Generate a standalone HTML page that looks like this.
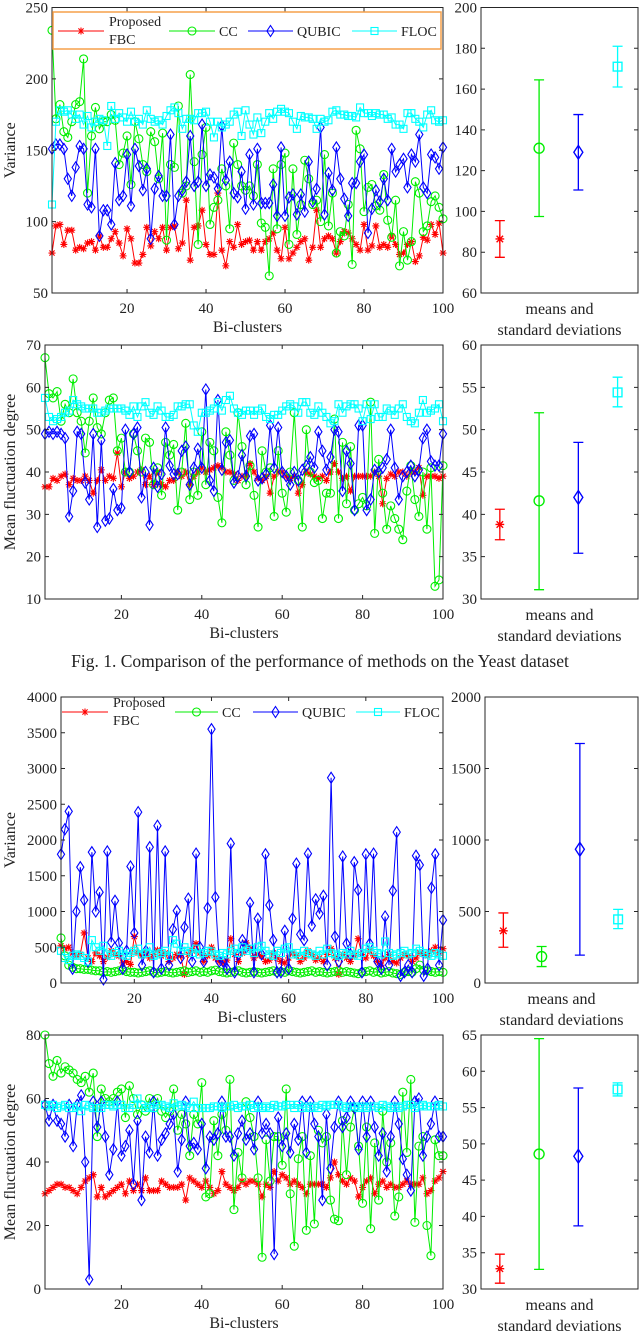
<!DOCTYPE html>
<html><head><meta charset="utf-8"><style>
html,body{margin:0;padding:0;background:#fff;}
svg{display:block;font-family:"Liberation Serif",serif;}
</style></head><body>
<svg id="fig" width="640" height="1333" viewBox="0 0 640 1333" xmlns="http://www.w3.org/2000/svg"></svg>
<script>
const xTicks=[20,40,60,80,100];
const p1Ticks=[50,100,150,200,250];
const p1EbTicks=[60,80,100,120,140,160,180,200];
const p2Ticks=[10,20,30,40,50,60,70];
const p2EbTicks=[30,35,40,45,50,55,60];
const p3Ticks=[0,500,1000,1500,2000,2500,3000,3500,4000];
const p3EbTicks=[0,500,1000,1500,2000];
const p4Ticks=[0,20,40,60,80];
const p4EbTicks=[30,35,40,45,50,55,60,65];

const p1Fbc=[78,97,98,84,94,94,80,82,81,85,86,80,90,82,82,88,93,85,76,95,88,71,71,77,96,83,93,88,96,80,96,97,81,85,115,73,96,97,108,84,77,77,120,80,69,86,82,98,84,86,87,80,86,80,86,88,92,80,74,96,74,78,82,86,88,73,82,108,82,88,90,88,78,86,93,92,88,84,80,98,80,83,97,82,84,82,90,84,77,78,84,86,72,76,89,87,98,91,99,78];
const p1Cc=[234,172,182,163,159,170,182,184,214,120,160,180,165,170,170,175,171,140,148,160,126,170,158,140,135,163,156,130,162,87,140,138,181,120,125,203,142,84,147,166,98,110,115,137,125,95,155,140,125,122,125,118,140,99,96,62,137,95,140,148,84,137,91,112,143,130,112,115,100,147,97,120,78,93,90,112,70,164,151,107,124,126,111,108,133,101,89,115,69,93,73,86,128,120,93,97,114,118,110,102];
const p1Qubic=[151,154,154,151,130,118,138,153,151,112,110,151,90,108,108,98,141,115,118,147,111,151,139,122,137,88,123,132,118,118,161,98,118,122,128,160,125,128,168,125,133,131,123,167,129,142,120,117,135,109,147,112,151,113,113,113,126,104,152,104,117,119,105,119,107,142,114,123,166,105,134,122,152,130,116,104,127,127,142,147,92,109,122,114,130,115,151,135,140,144,124,147,142,161,124,120,147,145,137,152];
const p1Floc=[112,170,178,177,178,175,172,175,168,174,166,170,172,171,153,181,172,176,173,170,177,170,172,168,178,172,170,171,168,174,178,180,176,165,172,172,171,176,176,177,170,159,170,166,168,170,175,177,160,178,168,161,173,162,170,176,172,177,179,177,176,170,165,174,173,173,172,165,172,170,171,177,178,175,175,174,174,173,180,176,176,174,176,175,175,172,173,168,168,165,176,176,172,170,166,175,178,171,170,171];
const p1Means=[86.5,131,129,171];
const p1Lo=[77.5,97.5,110.5,161];
const p1Hi=[95.5,164.5,147.5,181];

const p2Fbc=[36.5,36.5,38.5,38,39,39.5,37,38.5,38,38,39,38,35,38,40.5,38,39,38.5,44.5,36.5,40,38.5,39,40,40.5,37,39,37,40,37,36.5,38,38,40,39,40,37,39,40,41,40,40.5,41,41.5,41,40,40,39.5,38,39,39,42,40,38.5,38,39,35,39,40,40,39,38.5,39,35,37,40,39.5,39,38.5,39,38,40,42,40,38.5,39,35.5,39,39,39,39,39,40,39,32.5,38.5,39.5,39,40,40,39,40,40,41,34.5,39,39,39,38.5,39];
const p2Cc=[67,58.5,57.5,59,52,56,54,62,54,52,44.5,52,57.5,50.5,49,54,57,57.5,45,48,40,40,49,45,40,48,47,37,41,34.5,47,44,46.5,31,40,51.5,33.5,40,34.5,49.5,37,47,45,34,28,49.5,44,38,54,46,37,41.5,34.5,27,45,40,41,29.5,45,35,30.5,40,54,38,27,50,40,37.5,38,29,35,35,52.5,29,47,32.5,46,31,32.5,34,32,56.5,25.5,43,35,26.5,32,29,26.5,24,35.5,41.5,33.5,29.5,40,26.5,41,13,14.5,41.5];
const p2Qubic=[49,49.5,49,49.5,49,48,29.5,35.5,49.5,49,37.5,33.5,49,27,47.5,28.5,29,36,31,31.5,50,40,49,50.5,34,40,27.5,41,36.5,39.5,50.5,41.5,39.5,39.5,45,46,37,41,45.5,41,59.5,38,35.5,57,40.5,47,47.5,37.5,39,44,39,48.5,49,38,38.5,39.5,51,41,50.5,40,39,37,40,38,40.5,41.5,43.5,41,49.5,45,40.5,43.5,50,49.5,35.5,45,42,31,51,51,31,33.5,40.5,40,41,43,50,41,33.5,39,40,41.5,39,40.5,48,50,42.5,41.5,41.5,49];
const p2Floc=[57.5,53,52,52.5,53,54,54.5,57,56,55.5,55,55,55,54,54,54.5,55,55,55,55,54.5,53.5,55.5,53,55.5,56.5,54,53.5,55.5,54.5,53,53,53.5,55.5,55.5,56,56,51,49.5,54,54,54.5,55,56.5,54.5,57,58,55,54,53.5,54.5,54.5,53.5,54.5,55,53,52.5,53.5,53.5,54.5,55.5,56,55.5,54,56.5,56.5,54,53.5,55.5,54,53,51.5,52,56,54,55.5,56,56,55,52,56,52.5,56,53,53,55,54.5,53.5,55,56,53,52,51.5,54,57,54,54.5,55,56,52];
const p2Means=[38.8,41.6,42,54.4];
const p2Lo=[37,31.1,35.4,52.7];
const p2Hi=[40.6,52,48.5,56.2];

const p3Fbc=[520,480,500,420,380,400,700,350,300,420,380,300,360,450,400,380,280,300,260,650,420,380,440,350,400,460,380,420,300,350,400,380,120,400,450,550,420,300,380,500,350,300,280,320,620,400,300,420,560,480,350,400,380,300,320,420,350,300,280,350,420,380,300,350,450,400,320,350,300,400,480,350,120,400,350,300,380,620,400,350,450,380,300,250,350,400,300,280,350,400,380,300,350,420,400,380,450,500,420,480];
const p3Cc=[630,380,250,220,200,200,190,190,180,170,170,150,160,150,160,170,180,160,150,150,140,150,160,170,150,140,150,160,150,140,150,160,170,150,160,170,150,160,150,170,180,160,150,140,150,160,170,150,140,150,160,150,140,150,160,170,150,160,150,170,160,150,140,150,160,170,150,160,150,140,150,160,170,150,160,150,140,130,150,160,170,150,160,140,150,160,140,130,120,150,160,150,200,250,180,170,160,150,160,150];
const p3Qubic=[1800,2150,2400,200,1000,1620,1160,300,1830,1000,1270,50,1840,570,1150,560,200,450,1630,700,2390,250,450,1900,150,2200,200,1840,250,750,1010,350,780,1180,300,1810,500,300,1050,3550,1200,300,300,200,1950,150,400,600,500,1120,150,900,400,1800,1090,600,150,150,730,200,900,1670,680,600,1810,800,1170,970,1220,250,2870,650,300,1770,550,400,1690,1300,150,1800,550,1810,300,200,930,250,1290,2110,100,150,250,150,1780,1650,100,200,1330,1800,250,880];
const p3Floc=[450,350,320,380,400,380,350,300,600,500,450,520,400,380,420,450,400,380,420,450,480,400,420,500,380,400,420,450,380,600,550,450,500,450,420,480,400,420,450,440,400,380,420,400,450,480,420,500,450,480,420,500,520,450,400,380,450,420,480,500,400,420,380,450,420,400,380,450,400,480,420,400,380,420,400,450,400,380,420,480,500,450,420,400,580,420,380,400,420,450,400,420,480,450,420,400,380,420,400,380];
const p3Means=[365,185,935,445];
const p3Lo=[250,115,195,380];
const p3Hi=[490,255,1675,515];

const p4Fbc=[30,31,32,33,33,32,32,31,30,32,34,35,36,29,32,29,30,31,32,33,30,34,31,33,31,35,31,31,31,34,33,32,32,32,33,28,35,34,33,32,34,32,30,31,37,33,32,31,32,34,33,34,34,33,29,33,32,37,34,36,35,33,34,33,32,30,33,33,33,33,32,35,40,36,34,33,35,34,29,32,34,35,30,33,34,32,33,32,32,33,34,33,33,33,35,30,31,34,35,37];
const p4Cc=[80,71,67,72,68,70,69,68,66,65,67,62,68,48,63,60,59,60,62,63,54,64,60,55,58,56,60,57,60,56,54,56,63,50,55,52,42,55,52,65,29,30,53,42,55,50,66,25,43,35,59,54,48,35,10,47,34,48,48,39,63,30,13.5,41,48,18.5,42,20.5,50,46,48,28,22,21.5,53,36,51,57,45,27,51,19,46,28,56,40,46,23,29,62,43,66,21,45,48,20,10.5,47,42,42];
const p4Qubic=[58,53,58,53,52,48,58,45,58,61,40,3,59,51,59,48,36,44,59,42,45,50,33,53,28,48,43,59,42,47,49,52,55,37,47,59,45,46,44,52,38,48,47,49,59,48,48,42,49,53,47,49,44,59,49,52,49,11,54,45,49,43,52,47,59,43,59,52,48,28,55,38,51,59,51,54,59,57,44,59,48,59,51,42,49,37,48,59,52,41,36,31,59,60,42,48,52,59,48,48];
const p4Floc=[58,57.5,58,57,57.5,58,57,57,57.5,56,58,57.5,57,57,57,58,58,57.5,58,58,57,57,58,60,58,57,57.5,57,58,58,57.5,57,58.5,57.5,58,57.5,57,59,57,57,57,57,57.5,57.5,57,57.5,57.5,58,57,57.5,57.5,58,57,57.5,57,57.5,57,58,57.5,57.5,58,58,57,58,57,57.5,57,57.5,57,58,57.5,58,58,58,57.5,57,57.5,57.5,57,57.5,57,57.5,57.5,57,58,57.5,57,57.5,57,57.5,58,58,57,57.5,58,57.5,57.5,57.5,58,57.5];
const p4Means=[32.8,48.6,48.3,57.5];
const p4Lo=[30.8,32.7,38.7,56.6];
const p4Hi=[34.8,64.5,57.7,58.4];

const NS="http://www.w3.org/2000/svg";
const svg=document.getElementById('fig');
const COLORS=['#ff0000','#00ee00','#0000ff','#00ffff'];
const KINDS=['star','circle','diamond','square'];
function el(tag,attrs,parent){const e=document.createElementNS(NS,tag);for(const k in attrs)e.setAttribute(k,attrs[k]);(parent||svg).appendChild(e);return e;}
function marker(g,kind,x,y,c){
  let m;
  if(kind==='star'){m=el('path',{d:`M${x-3.5} ${y}H${x+3.5}M${x} ${y-3.5}V${y+3.5}M${x-2.6} ${y-2.6}L${x+2.6} ${y+2.6}M${x-2.6} ${y+2.6}L${x+2.6} ${y-2.6}`,stroke:c,'stroke-width':1.1,fill:'none'},g);}
  else if(kind==='circle'){m=el('circle',{cx:x,cy:y,r:4,stroke:c,'stroke-width':1.1,fill:'none'},g);}
  else if(kind==='diamond'){m=el('path',{d:`M${x} ${y-5.5}L${x+3.6} ${y}L${x} ${y+5.5}L${x-3.6} ${y}Z`,stroke:c,'stroke-width':1.1,fill:'none'},g);}
  else {m=el('rect',{x:x-3.5,y:y-3.5,width:7,height:7,stroke:c,'stroke-width':1.1,fill:'none'},g);}
  
  
  return m;
}
function text(str,x,y,attrs,name){const t=el('text',Object.assign({x:x,y:y,'font-size':15,fill:'#222'},attrs||{}));t.textContent=str;return t;}

function lineChart(id,box,ymin,ymax,yTicks,series,ylabel,xlabY){
  const [L,T,R,B]=box;
  const g=el('g',{});
  
  
  const sx=v=>L+(v-1)/(99)*(R-L);
  const sy=v=>B-(v-ymin)/(ymax-ymin)*(B-T);
  series.forEach((s,si)=>{
    const sg=el('g',{},g);
    
    
    const pts=s.map((v,i)=>sx(i+1).toFixed(1)+','+sy(v).toFixed(1)).join(' ');
    const pl=el('polyline',{points:pts,fill:'none',stroke:COLORS[si],'stroke-width':1},sg);
    
    
    s.forEach((v,i)=>marker(sg,KINDS[si],sx(i+1),sy(v),COLORS[si]));
  });
  const fr=el('rect',{x:L,y:T,width:R-L,height:B-T,fill:'none',stroke:'#262626','stroke-width':1},g);
  
  
  yTicks.forEach(v=>{
    const y=sy(v);
    el('path',{d:`M${L} ${y}h4M${R} ${y}h-4`,stroke:'#262626','stroke-width':1},g);
    text(String(v),L-4,y+5,{'text-anchor':'end'},id+'-y-tick-label');
  });
  xTicks.forEach(v=>{
    const x=sx(v);
    el('path',{d:`M${x} ${B}v-4M${x} ${T}v4`,stroke:'#262626','stroke-width':1},g);
    text(String(v),x,B+20,{'text-anchor':'middle'},id+'-x-tick-label');
  });
  text('Bi-clusters',(L+R)/2,xlabY,{'text-anchor':'middle','font-size':16},id+'-x-axis-title');
  const cy=(T+B)/2;
  text(ylabel,15,cy,{'text-anchor':'middle','font-size':16,transform:`rotate(-90 15 ${cy})`},id+'-y-axis-title');
}
function ebChart(id,box,ymin,ymax,yTicks,means,lo,hi,labY){
  const [L,T,R,B]=box;
  const g=el('g',{});
  
  
  const sy=v=>B-(v-ymin)/(ymax-ymin)*(B-T);
  const xs=[0.12,0.37,0.62,0.87].map(f=>L+f*(R-L));
  means.forEach((m,i)=>{
    const x=xs[i],c=COLORS[i];
    const eg=el('g',{},g);
    
    
    el('path',{d:`M${x} ${sy(lo[i])}V${sy(hi[i])}M${x-5} ${sy(lo[i])}h10M${x-5} ${sy(hi[i])}h10`,stroke:c,'stroke-width':1.3,fill:'none'},eg);
    const mk=marker(eg,KINDS[i],x,sy(m),c);
    mk.setAttribute('transform',`translate(${x} ${sy(m)}) scale(1.25) translate(${-x} ${-sy(m)})`);
  });
  const fr=el('rect',{x:L,y:T,width:R-L,height:B-T,fill:'none',stroke:'#262626','stroke-width':1},g);
  
  
  yTicks.forEach(v=>{
    const y=sy(v);
    el('path',{d:`M${L} ${y}h4M${R} ${y}h-4`,stroke:'#262626','stroke-width':1},g);
    text(String(v),L-4,y+5,{'text-anchor':'end'},id+'-eb-y-tick-label');
  });
  text('means and',(L+R)/2,labY,{'text-anchor':'middle','font-size':16},id+'-eb-label-1');
  text('standard deviations',(L+R)/2,labY+21,{'text-anchor':'middle','font-size':16},id+'-eb-label-2');
}
function legend(id,y,items,boxed){
  const g=el('g',{});
  
  
  if(boxed){const r=el('rect',{x:53,y:12,width:388,height:37,fill:'#fff',stroke:'#f5a04a','stroke-width':1.5},g);}
  items.forEach((it,i)=>{
    const eg=el('g',{},g);
    
    
    el('line',{x1:it.x1,x2:it.x2,y1:y,y2:y,stroke:COLORS[i],'stroke-width':1},eg);
    marker(eg,KINDS[i],(it.x1+it.x2)/2,y,COLORS[i]);
    if(it.two){text('Proposed',it.x2+5,y-5,{'font-size':14},'legend-label');text('FBC',it.x2+5,y+13,{'font-size':14},'legend-label');}
    else text(it.n,it.x2+4,y+5,{'font-size':14},'legend-label');
  });
}
lineChart('variance-yeast',[52,7.5,443,293],50,250,p1Ticks,[p1Fbc,p1Cc,p1Qubic,p1Floc],'Variance',332);
legend('variance-yeast',31,[{n:'FBC',x1:58,x2:104,two:true},{n:'CC',x1:169,x2:215},{n:'QUBIC',x1:248,x2:293},{n:'FLOC',x1:352,x2:397}],true);
ebChart('variance-yeast',[481,7.5,638,293],60,200,p1EbTicks,p1Means,p1Lo,p1Hi,314);

lineChart('fluct-yeast',[45,345,443,599],10,70,p2Ticks,[p2Fbc,p2Cc,p2Qubic,p2Floc],'Mean fluctuation degree',638);
ebChart('fluct-yeast',[481,345,638,599],30,60,p2EbTicks,p2Means,p2Lo,p2Hi,620);

text('Fig. 1. Comparison of the performance of methods on the Yeast dataset',320,667,{'text-anchor':'middle','font-size':17.5},'figure-caption');

lineChart('variance-2',[61,697,443,983],0,4000,p3Ticks,[p3Fbc,p3Cc,p3Qubic,p3Floc],'Variance',1022);
legend('variance-2',712,[{n:'FBC',x1:62,x2:108,two:true},{n:'CC',x1:175,x2:218},{n:'QUBIC',x1:253,x2:298},{n:'FLOC',x1:356,x2:400}],false);
ebChart('variance-2',[485,697,638,983],0,2000,p3EbTicks,p3Means,p3Lo,p3Hi,1004);

lineChart('fluct-2',[45,1035,443,1289],0,80,p4Ticks,[p4Fbc,p4Cc,p4Qubic,p4Floc],'Mean fluctuation degree',1328);
ebChart('fluct-2',[481,1035,638,1289],30,65,p4EbTicks,p4Means,p4Lo,p4Hi,1310);
</script>
</body></html>
